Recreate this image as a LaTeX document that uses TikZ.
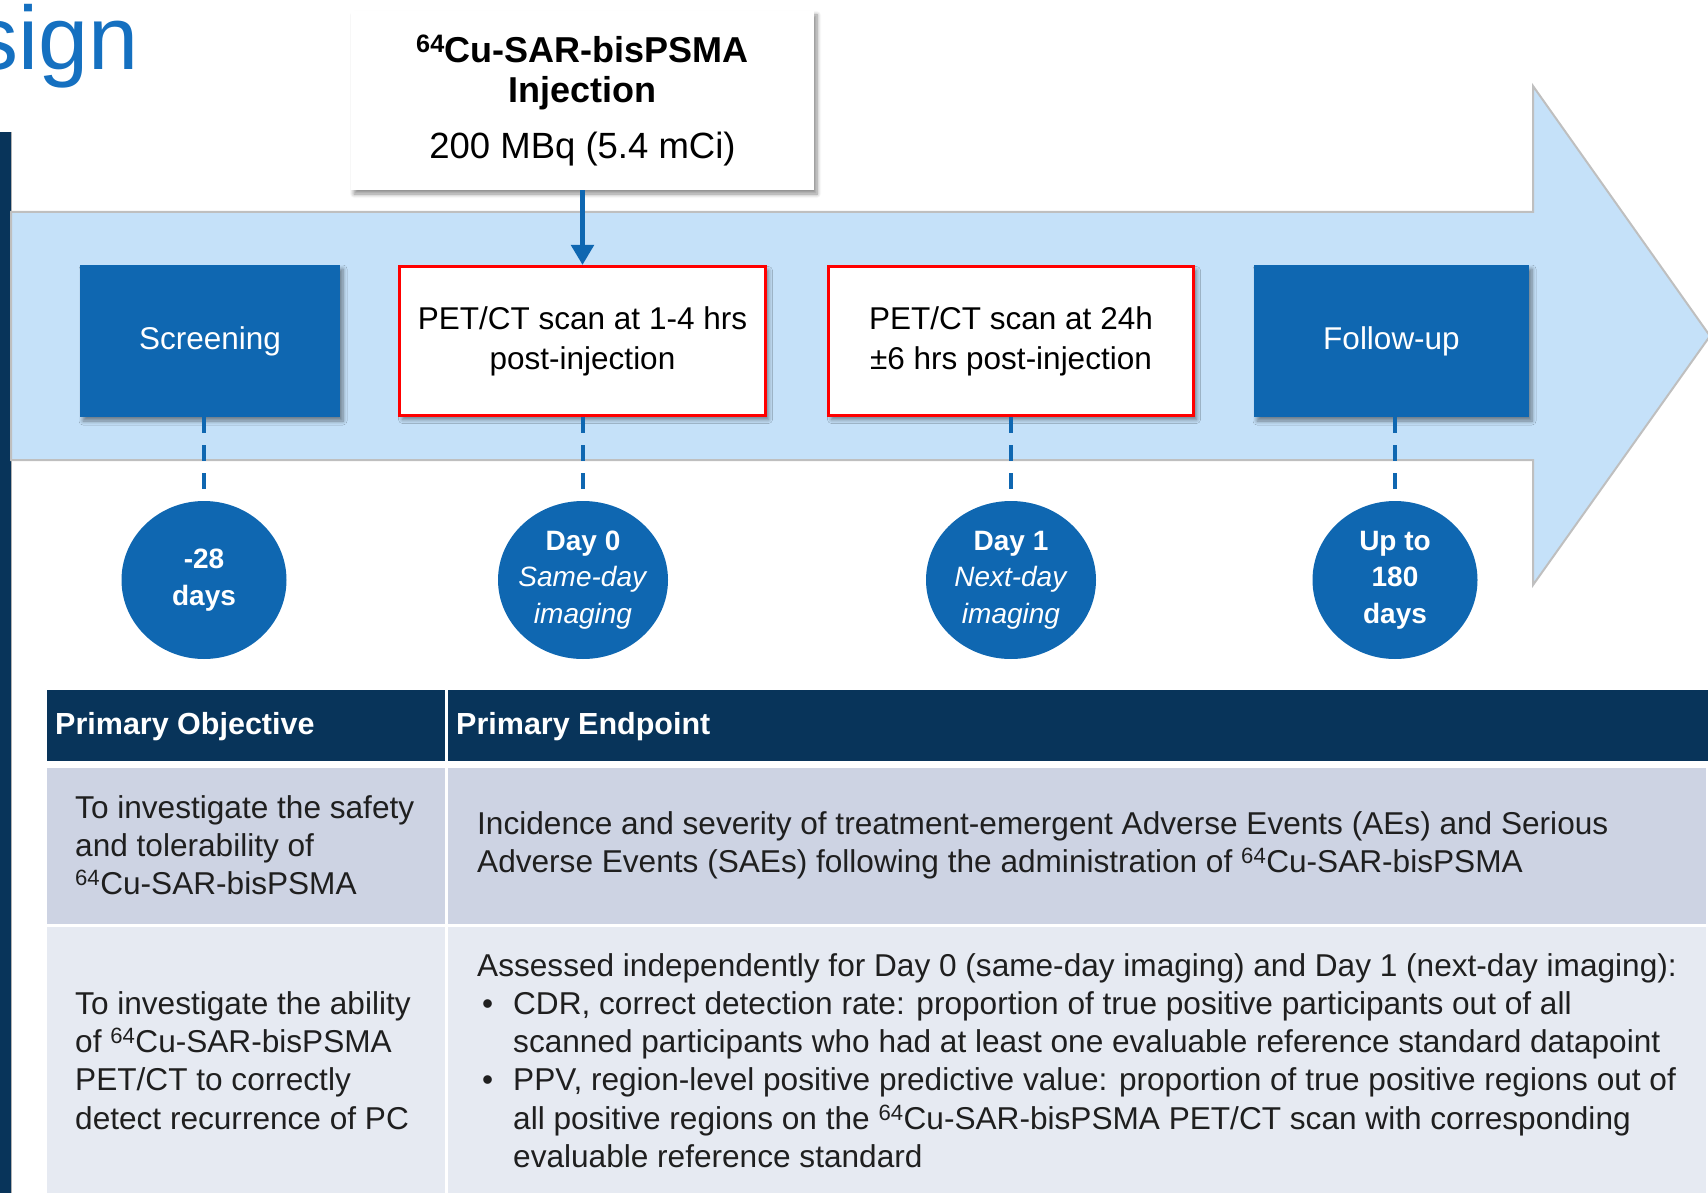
\documentclass[tikz,border=0pt]{standalone}
\usepackage{fontspec}
\setmainfont{Liberation Sans}
\usetikzlibrary{positioning}
\usetikzlibrary{arrows.meta}
\usetikzlibrary{shapes.geometric}
\usetikzlibrary{shadows.blur}

\definecolor{studyblue}{HTML}{0F67B1}
\definecolor{arrowblue}{HTML}{C5E1F9}
\definecolor{navy}{HTML}{08345A}
\definecolor{rowone}{HTML}{CDD3E3}
\definecolor{rowtwo}{HTML}{E6EAF2}
\definecolor{titleblue}{HTML}{1570C0}

\newcommand{\cusar}{\textsuperscript{64}Cu-SAR-bisPSMA}
\newcommand{\fsbox}{\fontsize{31.5}{40}\selectfont}
\newcommand{\fscirc}{\fontsize{28}{36.5}\selectfont}
\newcommand{\fstab}{\fontsize{31.6}{38.3}\selectfont}
\newcommand{\fshead}{\fontsize{30.5}{38}\selectfont}
\newcommand{\bul}{\makebox[36pt][l]{\hspace{5pt}\textbullet}}
\newcommand{\ind}{\hspace*{36pt}}

\begin{document}
\begin{tikzpicture}[x=1pt, y=-1pt,
  softshadow/.style={blur shadow={shadow blur steps=6, shadow xshift=3pt, shadow yshift=-4pt, shadow blur radius=4pt, shadow opacity=45}},
  phase/.style={rectangle, minimum height=152pt, inner sep=0pt, align=center, font=\fsbox, softshadow},
  bluephase/.style={phase, fill=studyblue, text=white},
  scanphase/.style={phase, minimum height=149pt, fill=white, draw=red, line width=3pt},
  injbox/.style={rectangle, fill=white, minimum width=463pt, minimum height=179pt, inner sep=0pt, align=center, font=\fontsize{36}{40.5}\selectfont, softshadow},
  daymark/.style={ellipse, fill=studyblue, text=white, inner xsep=-14pt, inner ysep=-6pt, minimum height=158pt, align=center, font=\fscirc},
  dashline/.style={studyblue, line width=3.5pt, dash pattern=on 16pt off 12pt},
  injarrow/.style={studyblue, line width=5pt, -{Triangle[width=22pt,length=20pt]}},
  headtext/.style={text=white, inner sep=0pt, font=\fshead\bfseries},
  celltext/.style={text=black!88, inner sep=0pt, align=left, font=\fstab}]

  \useasboundingbox (0,0) rectangle (1708,1193);

  % title, cut at the left edge
  \node[anchor=base east, text=titleblue, inner sep=0pt, font=\fontsize{90}{90}\selectfont] (title) at (139,70) {sign};

  % side bar
  \fill[navy] (0,132) rectangle (11,1193);
  \draw[black!30, line width=1pt] (11.5,132) -- (11.5,1193);

  % big timeline arrow
  \fill[arrowblue, draw=black!25, line width=2pt] (11,212) -- (1533,212) -- (1533,86) -- (1710,336) -- (1533,585) -- (1533,460) -- (11,460) -- cycle;

  % injection
  \node[injbox] (inj) at (582.5,100.5) {\textbf{\cusar}\\\textbf{Injection}\\[15pt]\fontsize{36.5}{40}\selectfont 200 MBq (5.4 mCi)};

  % phases
  \node[bluephase, minimum width=260pt] (screen) at (210,341) {Screening};
  \node[scanphase, minimum width=366pt] (pet0) at (582.5,341) {PET/CT scan at 1-4 hrs\\post-injection};
  \node[scanphase, minimum width=365pt] (pet1) at (1011,341) {PET/CT scan at 24h\\±6 hrs post-injection};
  \node[bluephase, minimum width=275pt] (follow) at (1391.5,341) {Follow-up};

  \draw[injarrow] (inj) -- (pet0);

  % time points
  \node[daymark, minimum width=165pt] (c28) at (204,580) {\textbf{-28}\\\textbf{days}};
  \node[daymark, minimum width=170pt] (cday0) at (583,580) {\textbf{Day 0}\\\textit{Same-day}\\\textit{imaging}};
  \node[daymark, minimum width=170pt] (cday1) at (1011,580) {\textbf{Day 1}\\\textit{Next-day}\\\textit{imaging}};
  \node[daymark, minimum width=165pt] (c180) at (1395,580) {\textbf{Up to}\\\textbf{180}\\\textbf{days}};

  \foreach \a/\b in {screen/c28, pet0/cday0, pet1/cday1, follow/c180}
    \draw[dashline] (\b.north |- \a.south) -- (\b.north);

  % objectives table
  \fill[navy] (47,690) rectangle (445,761);
  \fill[navy] (448,690) rectangle (1708,761);
  \fill[rowone] (47,768) rectangle (445,924);
  \fill[rowone] (448,768) rectangle (1706,924);
  \fill[rowtwo] (47,927) rectangle (445,1193);
  \fill[rowtwo] (448,927) rectangle (1706,1193);

  \node[headtext, anchor=west] (hobj) at (55,727) {Primary Objective};
  \node[headtext, anchor=west] (hend) at (456,727) {Primary Endpoint};

  \node[celltext, anchor=west] (obj1) at (75,845) {To investigate the safety\\and tolerability of\\\cusar};
  \node[celltext, anchor=west] (end1) at (477,845.5) {Incidence and severity of treatment-emergent Adverse Events (AEs) and Serious\\Adverse Events (SAEs) following the administration of \cusar};
  \node[celltext, anchor=west] (obj2) at (75,1060.5) {To investigate the ability\\of \cusar\\PET/CT to correctly\\detect recurrence of PC};
  \node[celltext, anchor=west] (end2) at (477,1060.5) {Assessed independently for Day 0 (same-day imaging) and Day 1 (next-day imaging):\\\bul CDR, correct detection rate: proportion of true positive participants out of all\\\ind scanned participants who had at least one evaluable reference standard datapoint\\\bul PPV, region-level positive predictive value: proportion of true positive regions out of\\\ind all positive regions on the \cusar{} PET/CT scan with corresponding\\\ind evaluable reference standard};
\end{tikzpicture}
\end{document}
